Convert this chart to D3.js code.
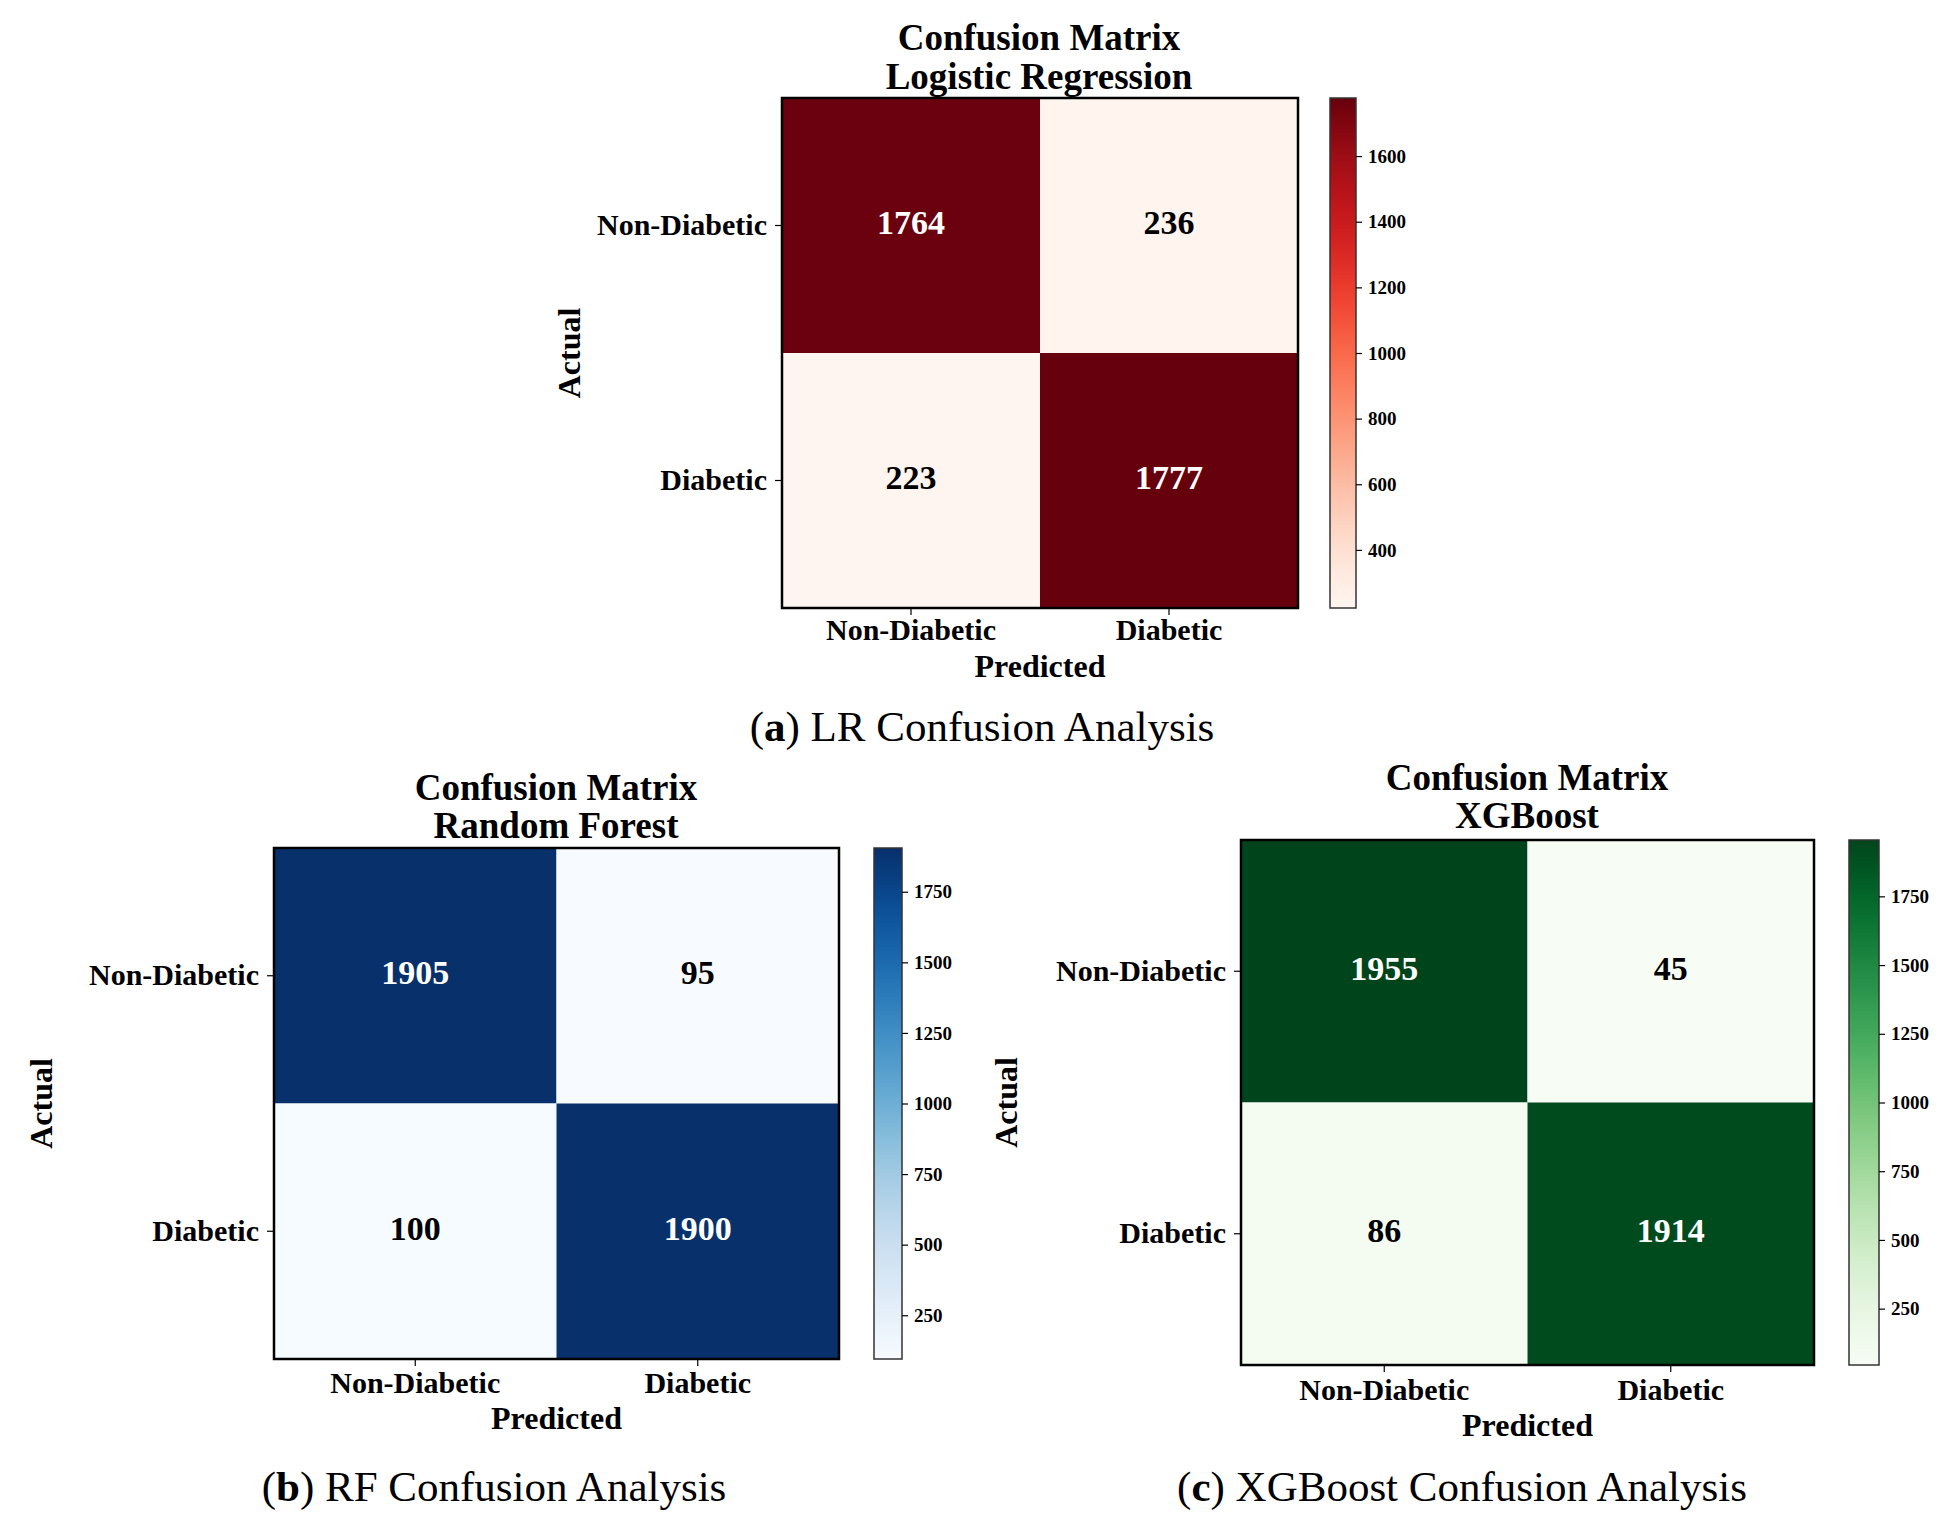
<!DOCTYPE html>
<html>
<head>
<meta charset="utf-8">
<script src="https://cdn.jsdelivr.net/npm/d3@7"></script>
<style>
  html, body { margin: 0; padding: 0; background: #ffffff; }
  svg { display: block; }
</style>
</head>
<body>
<svg id="chart" width="1960" height="1530"></svg>
<script>
// ---------------- DATA ----------------
const classes = ["Non-Diabetic", "Diabetic"];
const lrValues  = [[1764, 236], [223, 1777]];
const rfValues  = [[1905, 95],  [100, 1900]];
const xgbValues = [[1955, 45],  [86, 1914]];
const lrTicks  = [400, 600, 800, 1000, 1200, 1400, 1600];
const rfTicks  = [250, 500, 750, 1000, 1250, 1500, 1750];
const xgbTicks = [250, 500, 750, 1000, 1250, 1500, 1750];
const lrTitle  = ["Confusion Matrix", "Logistic Regression"];
const rfTitle  = ["Confusion Matrix", "Random Forest"];
const xgbTitle = ["Confusion Matrix", "XGBoost"];
const lrCaption  = ["a", "LR Confusion Analysis"];
const rfCaption  = ["b", "RF Confusion Analysis"];
const xgbCaption = ["c", "XGBoost Confusion Analysis"];

// ---------------- LAYOUT ----------------
const panels = [
  { values: lrValues, ticks: lrTicks, title: lrTitle, caption: lrCaption, interp: d3.interpolateReds,
    mx0: 782, mx1: 1298, my0: 98, my1: 608, cb0: 1330, cb1: 1356,
    titleX: 1039, titleY: [50, 89], actualX: 569, xlabY: 640, predY: 677, capX: 982, capY: 741 },
  { values: rfValues, ticks: rfTicks, title: rfTitle, caption: rfCaption, interp: d3.interpolateBlues,
    mx0: 274, mx1: 839, my0: 848, my1: 1359, cb0: 874, cb1: 902,
    titleX: 556, titleY: [800, 838], actualX: 41, xlabY: 1393, predY: 1429, capX: 494, capY: 1501 },
  { values: xgbValues, ticks: xgbTicks, title: xgbTitle, caption: xgbCaption, interp: d3.interpolateGreens,
    mx0: 1241, mx1: 1814, my0: 840, my1: 1365, cb0: 1849, cb1: 1879,
    titleX: 1527, titleY: [790, 828], actualX: 1006, xlabY: 1400, predY: 1436, capX: 1462, capY: 1501 }
];

const svg = d3.select("#chart");
const serif = "'Liberation Serif', 'Times New Roman', serif";

panels.forEach((p, pi) => {
  const g = svg.append("g");
  const flat = p.values.flat();
  const vmin = d3.min(flat), vmax = d3.max(flat);
  const color = d3.scaleSequential(p.interp).domain([vmin, vmax]);

  const x = d3.scaleBand().domain(classes).range([p.mx0, p.mx1]);
  const y = d3.scaleBand().domain(classes).range([p.my0, p.my1]);

  // title
  p.title.forEach((t, i) => {
    g.append("text").attr("x", p.titleX).attr("y", p.titleY[i])
      .attr("text-anchor", "middle")
      .style("font-family", serif).style("font-weight", "bold").style("font-size", "37px")
      .text(t);
  });

  // cells
  const cells = [];
  classes.forEach((a, i) => classes.forEach((pr, j) => cells.push({ actual: a, pred: pr, v: p.values[i][j] })));
  g.selectAll("rect.cell").data(cells).enter().append("rect")
    .attr("class", "cell")
    .attr("x", d => x(d.pred)).attr("y", d => y(d.actual))
    .attr("width", x.bandwidth()).attr("height", y.bandwidth())
    .attr("fill", d => color(d.v));

  g.selectAll("text.val").data(cells).enter().append("text")
    .attr("class", "val")
    .attr("x", d => x(d.pred) + x.bandwidth() / 2)
    .attr("y", d => y(d.actual) + y.bandwidth() / 2)
    .attr("dy", "0.25em")
    .attr("text-anchor", "middle")
    .style("font-family", serif).style("font-weight", "bold").style("font-size", "34px")
    .attr("fill", d => d.v > (vmin + vmax) / 2 ? "#ffffff" : "#000000")
    .text(d => d.v);

  // border
  g.append("rect").attr("x", p.mx0).attr("y", p.my0)
    .attr("width", p.mx1 - p.mx0).attr("height", p.my1 - p.my0)
    .attr("fill", "none").attr("stroke", "#000").attr("stroke-width", 2.5);

  // axes
  const yAxis = g.append("g").attr("transform", `translate(${p.mx0 - 1},0)`)
    .call(d3.axisLeft(y).tickSize(6).tickPadding(8));
  const xAxis = g.append("g").attr("transform", `translate(0,${p.my1 + 1})`)
    .call(d3.axisBottom(x).tickSize(6).tickPadding(8));
  [yAxis, xAxis].forEach(ax => {
    ax.select(".domain").remove();
    ax.selectAll("line").attr("stroke", "#000").attr("stroke-width", 1.2);
    ax.selectAll("text").style("font-family", serif).style("font-weight", "bold")
      .style("font-size", "30px").attr("fill", "#000");
  });
  xAxis.selectAll("text").each(function () {
    d3.select(this).attr("y", p.xlabY - p.my1 - 1).attr("dy", 0);
  });

  // axis labels
  g.append("text").attr("x", (p.mx0 + p.mx1) / 2).attr("y", p.predY)
    .attr("text-anchor", "middle")
    .style("font-family", serif).style("font-weight", "bold").style("font-size", "32px")
    .text("Predicted");
  g.append("text")
    .attr("transform", `translate(${p.actualX},${(p.my0 + p.my1) / 2}) rotate(-90)`)
    .attr("text-anchor", "middle").attr("dy", "0.35em")
    .style("font-family", serif).style("font-weight", "bold").style("font-size", "32px")
    .text("Actual");

  // colorbar
  const gradId = "grad" + pi;
  const grad = svg.append("defs").append("linearGradient").attr("id", gradId)
    .attr("x1", 0).attr("y1", 1).attr("x2", 0).attr("y2", 0);
  d3.range(0, 1.0001, 0.02).forEach(t => {
    grad.append("stop").attr("offset", t).attr("stop-color", color(vmin + t * (vmax - vmin)));
  });
  g.append("rect").attr("x", p.cb0).attr("y", p.my0)
    .attr("width", p.cb1 - p.cb0).attr("height", p.my1 - p.my0)
    .attr("fill", `url(#${gradId})`).attr("stroke", "#333").attr("stroke-width", 1.5);
  const cy = d3.scaleLinear().domain([vmin, vmax]).range([p.my1, p.my0]);
  const cAxis = g.append("g").attr("transform", `translate(${p.cb1},0)`)
    .call(d3.axisRight(cy).tickValues(p.ticks).tickSize(6).tickPadding(6).tickFormat(d3.format("d")));
  cAxis.select(".domain").remove();
  cAxis.selectAll("line").attr("stroke", "#000").attr("stroke-width", 1.2);
  cAxis.selectAll("text").style("font-family", serif).style("font-weight", "bold")
    .style("font-size", "19px").attr("fill", "#000");

  // caption
  const cap = g.append("text").attr("x", p.capX).attr("y", p.capY)
    .attr("text-anchor", "middle")
    .style("font-family", serif).style("font-size", "43px").attr("fill", "#000");
  cap.append("tspan").text("(");
  cap.append("tspan").style("font-weight", "bold").text(p.caption[0]);
  cap.append("tspan").text(") " + p.caption[1]);
});
</script>
</body>
</html>
